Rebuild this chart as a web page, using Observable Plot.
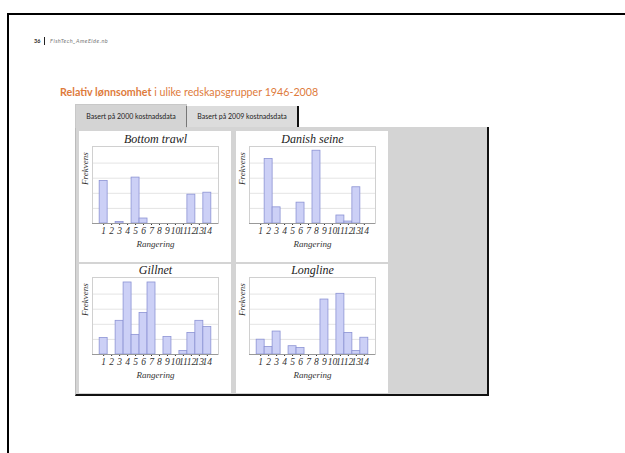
<!DOCTYPE html>
<html><head><meta charset="utf-8">
<script src="https://cdn.jsdelivr.net/npm/d3@7"></script>
<script src="https://cdn.jsdelivr.net/npm/@observablehq/plot@0.6"></script>
<style>
html,body{margin:0;padding:0;background:#fff;}
#page{position:relative;width:625px;height:453px;overflow:hidden;font-family:Lato,"Open Sans",sans-serif;}
.abs{position:absolute;}
.panel{position:absolute;background:#fff;}
</style></head>
<body><div id="page">
  <div class="abs" style="left:7px;top:13px;width:620px;height:2px;background:#000"></div>
  <div class="abs" style="left:7px;top:13px;width:2px;height:450px;background:#000"></div>
  <div class="abs" style="left:34px;top:38px;font-size:5.5px;font-weight:bold;color:#222">36</div>
  <div class="abs" style="left:44px;top:37px;width:1px;height:8px;background:#222"></div>
  <div class="abs" style="left:50px;top:38px;font-size:5.5px;font-style:italic;color:#777;letter-spacing:0.5px">FishTech_AmeEide.nb</div>
  <div class="abs" id="title" style="left:60px;top:85px;font-size:10.7px;color:#de7b3c;white-space:nowrap"><b>Relativ lønnsomhet</b> i ulike redskapsgrupper 1946-2008</div>
  <div class="abs" style="left:75px;top:127px;width:411px;height:267px;background:#d4d4d4;border-right:2px solid #111;border-bottom:2px solid #111;border-left:1px solid #bbb"></div>
  <div class="abs" style="left:75px;top:104px;width:110px;height:23px;background:#d4d4d4;border:1px solid #c8c8c8;border-bottom:none;font-size:7px;line-height:23px;text-align:center;color:#222;white-space:nowrap">Basert på 2000 kostnadsdata</div>
  <div class="abs" style="left:186px;top:106px;width:110px;height:21px;background:#dcdcdc;border-left:1px solid #777;border-right:2px solid #111;font-size:7px;line-height:21px;text-align:center;color:#222;white-space:nowrap">Basert på 2009 kostnadsdata</div>
  <div class="panel" id="p1" style="left:79px;top:131px;width:152px;height:131px"></div>
  <div class="panel" id="p2" style="left:236px;top:131px;width:152px;height:131px"></div>
  <div class="panel" id="p3" style="left:79px;top:264px;width:152px;height:129px"></div>
  <div class="panel" id="p4" style="left:236px;top:264px;width:152px;height:129px"></div>
</div>
<script>
const categories = [1,2,3,4,5,6,7,8,9,10,11,12,13,14];
const panelTitles = ["Bottom trawl","Danish seine","Gillnet","Longline"];
const bottomTrawl = [2.82,0,0.1,0,3.04,0.33,0,0,0,0,0,1.91,0,2.04];
const danishSeine = [0,4.27,1.07,0,0,1.38,0,4.82,0,0,0.53,0.13,2.4,0];
const gillnet     = [1.09,0,2.23,4.77,1.3,2.75,4.77,0,1.16,0,0.23,1.43,2.23,1.82];
const longline    = [0.98,0.5,1.52,0,0.55,0.43,0,0,3.64,0,4.02,1.43,0.23,1.11];
const yLabel = "Frekvens";
const xLabel = "Rangering";

const series = [bottomTrawl, danishSeine, gillnet, longline];
const serif = "'Liberation Serif','DejaVu Serif',serif";

series.forEach((vals, i) => {
  const data = categories.map((k, j) => ({k, v: vals[j]})).filter(d => d.v > 0);
  const top = i < 2;
  const h = top ? 131 : 129;
  const chart = Plot.plot({
    width: 152, height: h,
    marginTop: top ? 15 : 13, marginBottom: 39,
    marginLeft: 13, marginRight: 13,
    style: {fontFamily: serif, fontStyle: "italic", fontSize: "9.5px", color: "#333", background: "#fff"},
    x: {domain: [-0.4, 15.4], ticks: categories, tickFormat: d => String(d), tickSize: 2, label: null, tickPadding: 2},
    y: {domain: [0, 5.1], axis: null},
    marks: [
      Plot.gridY([1,2,3,4], {stroke: "#e4e4e4", strokeOpacity: 1}),
      Plot.rectY(data, {x1: d => d.k - 0.5, x2: d => d.k + 0.5, y: "v", fill: "#ccd0f6", stroke: "#8c93d4", strokeWidth: 0.8}),
      Plot.frame({stroke: "#d0d0d0"}),
      Plot.ruleY([0], {stroke: "#999"}),
      Plot.text([panelTitles[i]], {frameAnchor: "top", dy: -12, fontSize: 12, fill: "#222"}),
      Plot.text([yLabel], {frameAnchor: "left", rotate: -90, dx: -7, fontSize: 9, fill: "#333"}),
      Plot.text([xLabel], {frameAnchor: "bottom", dy: 23, fontSize: 9, fill: "#333"})
    ]
  });
  document.getElementById("p" + (i + 1)).appendChild(chart);
});
</script>
</body></html>
